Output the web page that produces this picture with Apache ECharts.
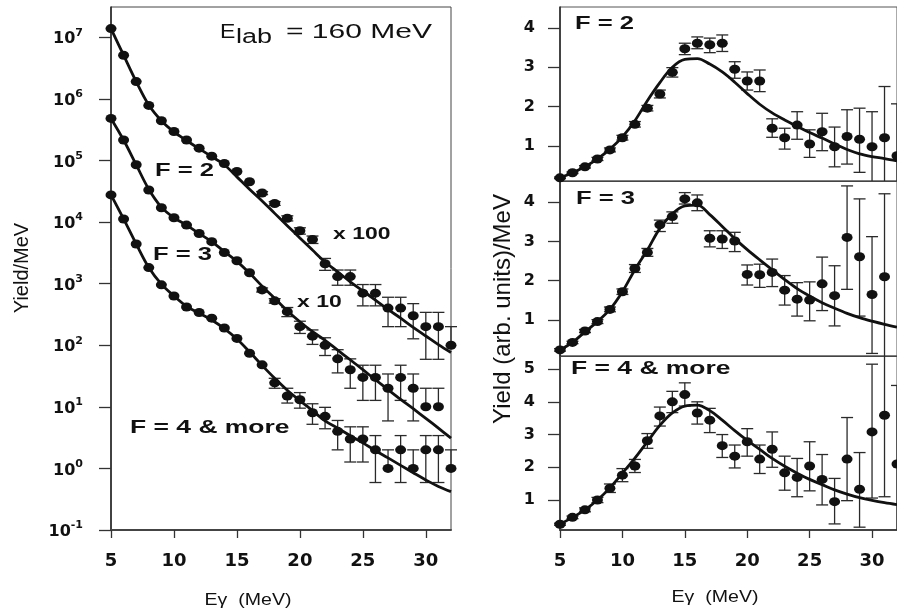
<!DOCTYPE html>
<html>
<head>
<meta charset="utf-8">
<script src="https://cdn.jsdelivr.net/npm/echarts@6/dist/echarts.min.js"></script>
<style>
  html, body { margin: 0; padding: 0; background: #fff; }
  #chart { width: 897px; height: 612px; }
</style>
</head>
<body>
<div id="chart"></div>
<script>
// photon energies (MeV), shared by every panel
const energies = [5, 6, 7, 8, 9, 10, 11, 12, 13, 14, 15, 16, 17, 18, 19, 20, 21, 22, 23, 24, 25, 26, 27, 28, 29, 30, 31, 32]

// ---- left panel: yield/MeV (log), F=2 scaled x100, F=3 scaled x10 ----
const f2x100 = [1.38e7, 5.1e6, 1.9e6, 7.8e5, 4.4e5, 2.95e5, 2.14e5, 1.58e5, 1.17e5, 8.9e4, 6.6e4, 4.5e4, 2.95e4, 2.0e4, 1.15e4, 7.2e3, 5.2e3, 2.1e3, 1300, 1300, 700, 700, 400, 400, 300, 200, 200, 100]
const f2x100Lo = [null, null, null, null, null, null, null, null, null, null, null, null, 2.78e4, 1.86e4, 1.04e4, 6.35e3, 4.48e3, 1.64e3, 940, 940, 435, 435, 200, 200, 127, 59, 59, null]
const f2x100Hi = [null, null, null, null, null, null, null, null, null, null, null, null, 3.12e4, 2.14e4, 1.26e4, 8.05e3, 5.92e3, 2.56e3, 1660, 1660, 965, 965, 600, 600, 473, 341, 341, 200]
const f2x100Fit = [1.38e7, 5.1e6, 1.9e6, 7.9e5, 4.4e5, 2.9e5, 2.1e5, 1.55e5, 1.15e5, 8.5e4, 5.4e4, 3.4e4, 2.2e4, 1.38e4, 8.7e3, 5.5e3, 3.5e3, 2.24e3, 1550, 1070, 760, 540, 380, 275, 195, 141, 102, 76]

const f3x10 = [4.8e5, 2.14e5, 8.5e4, 3.3e4, 1.7e4, 1.17e4, 8.9e3, 6.5e3, 4.8e3, 3.2e3, 2.35e3, 1.5e3, 790, 525, 350, 200, 140, 100, 60, 40, 30, 30, 20, 30, 20, 10, 10, null]
const f3x10Lo = [null, null, null, null, null, null, null, null, null, null, null, null, 730, 480, 291, 155, 103, 68, 35.5, 20, 12.7, 12.7, 5.9, 12.7, 5.9, null, null, null]
const f3x10Hi = [null, null, null, null, null, null, null, null, null, null, null, null, 850, 570, 409, 245, 177, 132, 84.5, 60, 47.3, 47.3, 34.1, 47.3, 34.1, 20, 20, null]
const f3x10Fit = [4.8e5, 2.14e5, 8.5e4, 3.4e4, 1.74e4, 1.17e4, 8.9e3, 6.5e3, 4.8e3, 3.3e3, 2.3e3, 1.48e3, 910, 575, 363, 240, 166, 120, 83, 58, 40, 27.5, 19, 13.2, 9.3, 6.5, 4.5, 3.1]

const f4 = [2.75e4, 1.12e4, 4.4e3, 1.82e3, 955, 630, 417, 339, 275, 190, 129, 74, 48, 24.5, 15, 13, 8, 7, 4, 3, 3, 2, 1, 2, 1, 2, 2, 1]
const f4Lo = [null, null, null, null, null, null, null, null, null, null, null, null, null, 20, 11.5, 9.5, 5.2, 4.4, 2, 1.27, 1.27, 0.59, null, 0.59, null, 0.59, 0.59, null]
const f4Hi = [null, null, null, null, null, null, null, null, null, null, null, null, null, 29, 20, 17, 11.2, 9.8, 6, 4.73, 4.73, 3.41, 2, 3.41, 2, 3.41, 3.41, 2]
const f4Fit = [2.75e4, 1.12e4, 4.4e3, 1.82e3, 980, 630, 427, 331, 257, 186, 126, 78, 47, 29, 18.6, 12.6, 8.7, 5.9, 4.5, 3.4, 2.6, 1.95, 1.48, 1.12, 0.85, 0.65, 0.51, 0.42]

// ---- right panels: yield (arb. units)/MeV, linear ----
const r2 = [0.19, 0.32, 0.47, 0.67, 0.90, 1.21, 1.55, 1.96, 2.32, 2.87, 3.47, 3.61, 3.57, 3.61, 2.95, 2.65, 2.65, 1.45, 1.21, 1.53, 1.05, 1.36, 0.98, 1.24, 1.17, 0.98, 1.21, 0.75]
const r2Lo = [0.17, 0.30, 0.44, 0.63, 0.85, 1.15, 1.48, 1.89, 2.22, 2.75, 3.32, 3.47, 3.37, 3.40, 2.72, 2.42, 2.38, 1.22, 0.92, 1.17, 0.71, 0.88, 0.47, 0.54, 0.33, 0, 0, 0]
const r2Hi = [0.21, 0.34, 0.50, 0.71, 0.95, 1.27, 1.62, 2.03, 2.42, 2.99, 3.61, 3.77, 3.74, 3.82, 3.14, 2.88, 2.93, 1.69, 1.45, 1.87, 1.41, 1.83, 1.48, 1.92, 1.96, 1.87, 2.51, 2.07]
const r2Fit = [0.19, 0.32, 0.47, 0.67, 0.92, 1.23, 1.64, 2.15, 2.61, 3.00, 3.20, 3.22, 3.08, 2.88, 2.62, 2.33, 2.06, 1.84, 1.66, 1.50, 1.34, 1.20, 1.05, 0.91, 0.80, 0.73, 0.68, 0.62]

const r3 = [0.24, 0.43, 0.72, 0.96, 1.27, 1.72, 2.31, 2.72, 3.42, 3.63, 4.08, 3.98, 3.08, 3.06, 3.01, 2.16, 2.15, 2.21, 1.76, 1.53, 1.51, 1.92, 1.62, 3.10, 2.61, 1.65, 2.10, null]
const r3Lo = [0.21, 0.40, 0.68, 0.91, 1.21, 1.65, 2.21, 2.62, 3.25, 3.46, 3.95, 3.78, 2.86, 2.82, 2.74, 1.89, 1.83, 1.85, 1.38, 1.10, 0.98, 1.24, 0.85, 1.78, 1.10, 0.15, 0, null]
const r3Hi = [0.27, 0.46, 0.76, 1.01, 1.33, 1.79, 2.41, 2.82, 3.54, 3.75, 4.24, 4.18, 3.27, 3.27, 3.23, 2.40, 2.42, 2.55, 2.13, 1.95, 1.97, 2.60, 2.38, 4.41, 4.08, 3.12, 4.21, null]
const r3Fit = [0.24, 0.43, 0.70, 0.96, 1.27, 1.72, 2.28, 2.78, 3.33, 3.70, 3.90, 3.92, 3.68, 3.38, 3.07, 2.79, 2.53, 2.28, 2.03, 1.80, 1.61, 1.44, 1.30, 1.17, 1.06, 0.97, 0.89, 0.82]

const r4 = [0.26, 0.47, 0.70, 1.00, 1.36, 1.76, 2.04, 2.81, 3.57, 4.00, 4.22, 3.66, 3.44, 2.66, 2.34, 2.78, 2.25, 2.55, 1.83, 1.69, 2.04, 1.63, 0.95, 2.25, 1.33, 3.08, 3.59, 2.10]
const r4Lo = [0.23, 0.43, 0.64, 0.92, 1.23, 1.56, 1.84, 2.58, 3.26, 3.67, 3.87, 3.32, 3.06, 2.30, 1.98, 2.34, 1.81, 2.00, 1.30, 1.10, 1.28, 0.85, 0.27, 0.98, 0.17, 1.06, 1.10, 0]
const r4Hi = [0.29, 0.51, 0.76, 1.08, 1.49, 1.96, 2.24, 3.03, 3.84, 4.32, 4.58, 4.00, 3.80, 3.00, 2.68, 3.18, 2.68, 3.08, 2.34, 2.27, 2.78, 2.39, 1.66, 3.52, 2.45, 5.15, 7.0, 4.5]
const r4Fit = [0.26, 0.47, 0.70, 1.00, 1.37, 1.82, 2.28, 2.78, 3.28, 3.66, 3.87, 3.90, 3.73, 3.44, 3.12, 2.82, 2.55, 2.27, 2.03, 1.82, 1.63, 1.47, 1.31, 1.18, 1.07, 0.99, 0.92, 0.86]

// tick labels
const xTicks = [5, 10, 15, 20, 25, 30]
const logTicks = [-1, 0, 1, 2, 3, 4, 5, 6, 7]

const INK = '#111'
const TICK_FONT = 'DejaVu Sans'
const TEXT_FONT = 'Liberation Sans'

const lg = v => (v == null || v <= 0) ? null : Math.log10(v)
const asLog = arr => arr.map(lg)

const pairs = (ys) => energies.map((x, i) => [x, ys[i]])
const errRows = (vals, lo, hi) => energies.map((x, i) => [x, vals[i], lo[i], hi[i]])

const errorBars = (params, api) => {
  const x = api.value(0)
  const v = api.value(1)
  const lo = api.value(2)
  const hi = api.value(3)
  if (isNaN(v)) return
  const cs = params.coordSys
  const top = cs.y
  const bot = cs.y + cs.height
  const p = api.coord([x, v])
  const w = 6
  const st = { stroke: '#2a2a2a', lineWidth: 1.3 }
  const kids = []
  const addSide = (end) => {
    if (isNaN(end)) return
    let ye = api.coord([x, end])[1]
    const inside = ye >= top - 0.5 && ye <= bot + 0.5
    ye = Math.max(top, Math.min(bot, ye))
    kids.push({ type: 'line', shape: { x1: p[0], y1: p[1], x2: p[0], y2: ye }, style: st })
    if (inside) kids.push({ type: 'line', shape: { x1: p[0] - w, y1: ye, x2: p[0] + w, y2: ye }, style: st })
  }
  addSide(hi)
  addSide(lo)
  return { type: 'group', children: kids }
}

const markSeries = (gi, vals, lo, hi, fit) => [
  {
    type: 'custom', xAxisIndex: gi, yAxisIndex: gi, renderItem: errorBars,
    data: errRows(vals, lo, hi), z: 2, silent: true
  },
  {
    type: 'line', xAxisIndex: gi, yAxisIndex: gi, data: pairs(fit), smooth: 0.35,
    showSymbol: false, lineStyle: { color: INK, width: 2.8 }, z: 3, silent: true
  },
  {
    type: 'scatter', xAxisIndex: gi, yAxisIndex: gi, data: pairs(vals),
    symbol: 'circle', symbolSize: [11, 9], itemStyle: { color: '#111', opacity: 1 }, z: 4, silent: true
  }
]

const xAxisFor = (gi, withLabels) => ({
  type: 'value', gridIndex: gi, min: 5, max: 32,
  axisLine: { show: true, onZero: false, lineStyle: { color: '#444', width: withLabels ? 2 : 1.2 } },
  axisTick: { show: withLabels, length: 8, customValues: xTicks, lineStyle: { color: '#333', width: 1.3 } },
  axisLabel: {
    show: withLabels, customValues: xTicks, margin: 22,
    fontFamily: TICK_FONT, fontWeight: 'bold', fontSize: 18, color: INK
  },
  splitLine: { show: false }
})

const linYAxis = (gi, min, max, ticks) => ({
  type: 'value', gridIndex: gi, min, max,
  axisLine: { show: true, onZero: false, lineStyle: { color: '#222', width: 1.5 } },
  axisTick: { show: true, length: 12, customValues: ticks, lineStyle: { color: '#333', width: 1.3 } },
  axisLabel: {
    customValues: ticks, margin: 25,
    fontFamily: TICK_FONT, fontWeight: 'bold', fontSize: 16, color: INK
  },
  splitLine: { show: false }
})

const txt = (text, x, y, font, opts = {}) => ({
  type: 'text', x, y, scaleX: opts.sx || 1, scaleY: opts.sy || 1, rotation: opts.rot || 0, z: 10,
  style: {
    text, font, fill: INK,
    align: opts.align || 'left', verticalAlign: 'middle',
    textAlign: opts.align || 'left', textVerticalAlign: 'middle'
  }
})

const BOLD = `bold 18px "${TEXT_FONT}"`
const BOLD_S = `bold 17px "${TEXT_FONT}"`
const REG = `17px "${TEXT_FONT}"`
const BIG = `20px "${TEXT_FONT}"`

const chart = echarts.init(document.getElementById('chart'))

chart.setOption({
  backgroundColor: '#fff',
  animation: false,
  grid: [
    { left: 111, top: 7, width: 340, height: 523, show: true, borderColor: '#444', borderWidth: 1 },
    { left: 560, top: 7, width: 340, height: 174, show: true, borderColor: '#555', borderWidth: 1 },
    { left: 560, top: 181, width: 340, height: 175, show: true, borderColor: '#555', borderWidth: 1 },
    { left: 560, top: 356, width: 340, height: 174, show: true, borderColor: '#555', borderWidth: 1 }
  ],
  xAxis: [xAxisFor(0, true), xAxisFor(1, false), xAxisFor(2, false), xAxisFor(3, true)],
  yAxis: [
    {
      type: 'value', gridIndex: 0, min: -1, max: 7.49,
      axisLine: { show: true, onZero: false, lineStyle: { color: '#222', width: 1.5 } },
      axisTick: { show: true, length: 12, customValues: logTicks, lineStyle: { color: '#333', width: 1.3 } },
      axisLabel: {
        customValues: logTicks, margin: 28,
        formatter: v => `{b|10}{s|${v}}`,
        rich: {
          b: { fontFamily: TICK_FONT, fontWeight: 'bold', fontSize: 16, color: INK, lineHeight: 20, verticalAlign: 'bottom' },
          s: { fontFamily: TICK_FONT, fontWeight: 'bold', fontSize: 11, color: INK, lineHeight: 10, verticalAlign: 'top' }
        }
      },
      splitLine: { show: false }
    },
    linYAxis(1, 0.11, 4.53, [1, 2, 3, 4]),
    linYAxis(2, 0.085, 4.535, [1, 2, 3, 4]),
    linYAxis(3, 0.084, 5.40, [1, 2, 3, 4, 5])
  ],
  series: [
    ...markSeries(0, asLog(f2x100), asLog(f2x100Lo), asLog(f2x100Hi), asLog(f2x100Fit)),
    ...markSeries(0, asLog(f3x10), asLog(f3x10Lo), asLog(f3x10Hi), asLog(f3x10Fit)),
    ...markSeries(0, asLog(f4), asLog(f4Lo), asLog(f4Hi), asLog(f4Fit)),
    ...markSeries(1, r2, r2Lo, r2Hi, r2Fit),
    ...markSeries(2, r3, r3Lo, r3Hi, r3Fit),
    ...markSeries(3, r4, r4Lo, r4Hi, r4Fit)
  ],
  graphic: [
    txt('E', 220, 32, BIG, { sx: 1.15 }),
    txt('lab', 236, 37, BIG, { sx: 1.35 }),
    txt('= 160 MeV', 286, 32, BIG, { sx: 1.5 }),
    txt('F = 2', 155, 171.5, BOLD, { sx: 1.42 }),
    txt('F = 3', 153, 255, BOLD, { sx: 1.42 }),
    txt('x 100', 333, 234, BOLD_S, { sx: 1.35 }),
    txt('x 10', 297, 302.5, BOLD_S, { sx: 1.35 }),
    txt('F = 4 & more', 130, 428, BOLD, { sx: 1.47 }),
    txt('F = 2', 575, 24, BOLD, { sx: 1.42 }),
    txt('F = 3', 576, 199.5, BOLD, { sx: 1.42 }),
    txt('F = 4 & more', 571, 369.5, BOLD, { sx: 1.47 }),
    txt('Eγ  (MeV)', 248, 600, REG, { sx: 1.15, align: 'center' }),
    txt('Eγ  (MeV)', 715, 597.5, REG, { sx: 1.15, align: 'center' }),
    txt('Yield/MeV', 22, 268, `20px "${TEXT_FONT}"`, { rot: Math.PI / 2, align: 'center' }),
    txt('Yield (arb. units)/MeV', 503, 309, `24px "${TEXT_FONT}"`, { rot: Math.PI / 2, align: 'center' })
  ]
})
</script>
</body>
</html>
